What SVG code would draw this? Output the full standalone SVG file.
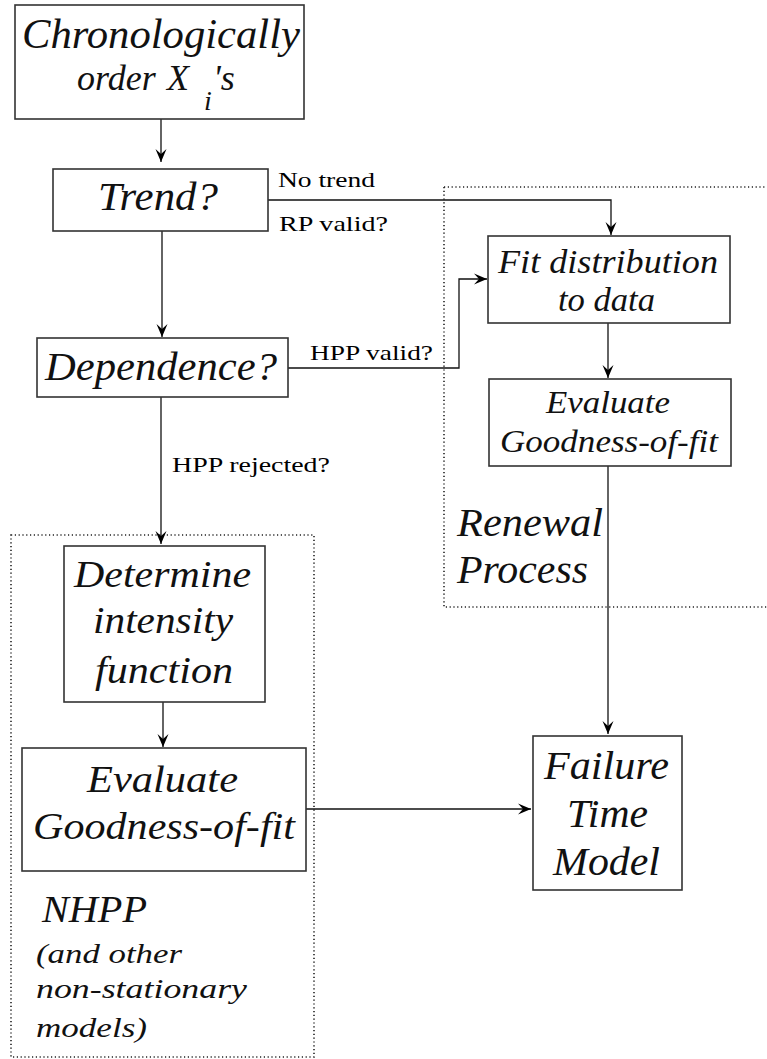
<svg xmlns="http://www.w3.org/2000/svg" width="767" height="1059" viewBox="0 0 767 1059">
  <defs>
    <marker id="arrow" viewBox="-14 -7 16 14" markerWidth="16" markerHeight="14" refX="0" refY="0" orient="auto" markerUnits="userSpaceOnUse">
      <path d="M0,0 L-13,-5.5 L-8,0 L-13,5.5 Z" fill="#000"/>
    </marker>
    <style>
      .box { fill: #fff; stroke: #333; stroke-width: 1.6; }
      .group { fill: none; stroke: #222; stroke-width: 1.6; stroke-dasharray: 1.2 2.6; }
      .edge { fill: none; stroke: #111; stroke-width: 1.3; }
      .t { font-family: "Liberation Serif", "Times New Roman", serif; font-style: italic; fill: #111; }
      .lab { font-family: "Liberation Serif", "Times New Roman", serif; font-size: 21px; fill: #000; }
    </style>
  </defs>

  <rect width="767" height="1059" fill="#fff"/>

  <!-- dotted grouping frames -->
  <g id="group-renewal">
    <path class="group" d="M444,187 L767,187 M444,187 L444,607 L767,607"/>
    <text class="t" x="457" y="536" font-size="40" textLength="146" lengthAdjust="spacingAndGlyphs">Renewal</text>
    <text class="t" x="457" y="583" font-size="40" textLength="131" lengthAdjust="spacingAndGlyphs">Process</text>
  </g>
  <g id="group-nhpp">
    <rect class="group" x="11" y="535" width="303" height="522"/>
    <text class="t" x="42" y="922" font-size="38" textLength="105" lengthAdjust="spacingAndGlyphs">NHPP</text>
    <text class="t" x="36" y="963" font-size="28" textLength="146" lengthAdjust="spacingAndGlyphs">(and other</text>
    <text class="t" x="36" y="998" font-size="28" textLength="211" lengthAdjust="spacingAndGlyphs">non-stationary</text>
    <text class="t" x="36" y="1037" font-size="28" textLength="111" lengthAdjust="spacingAndGlyphs">models)</text>
  </g>

  <!-- connectors -->
  <g id="connectors">
    <path class="edge" d="M161,119 L161,162" marker-end="url(#arrow)"/>
    <path class="edge" d="M268,200 L611,200 L611,235" marker-end="url(#arrow)"/>
    <path class="edge" d="M162,231 L162,337" marker-end="url(#arrow)"/>
    <path class="edge" d="M288,368 L459,368 L459,279 L487,279" marker-end="url(#arrow)"/>
    <path class="edge" d="M161,397 L161,544" marker-end="url(#arrow)"/>
    <path class="edge" d="M608,323 L608,378" marker-end="url(#arrow)"/>
    <path class="edge" d="M163,702 L163,747" marker-end="url(#arrow)"/>
    <path class="edge" d="M608,466 L608,734" marker-end="url(#arrow)"/>
    <path class="edge" d="M306,809 L531,809" marker-end="url(#arrow)"/>
    <text class="lab" x="278" y="187" textLength="97" lengthAdjust="spacingAndGlyphs">No trend</text>
    <text class="lab" x="279" y="231" textLength="109" lengthAdjust="spacingAndGlyphs">RP valid?</text>
    <text class="lab" x="310" y="360" textLength="123" lengthAdjust="spacingAndGlyphs">HPP valid?</text>
    <text class="lab" x="172" y="472" textLength="158" lengthAdjust="spacingAndGlyphs">HPP rejected?</text>
  </g>

  <!-- process boxes -->
  <g id="node-order">
    <rect class="box" x="15" y="5" width="289" height="114"/>
    <text class="t" x="22" y="48" font-size="42" textLength="278" lengthAdjust="spacingAndGlyphs">Chronologically</text>
    <text class="t" font-size="36" y="90"><tspan x="77">order</tspan><tspan x="167">X</tspan><tspan x="213">'s</tspan><tspan x="204" y="110" font-size="28">i</tspan></text>
  </g>
  <g id="node-trend">
    <rect class="box" x="53" y="169" width="215" height="62"/>
    <text class="t" x="98" y="210" font-size="40" textLength="120" lengthAdjust="spacingAndGlyphs">Trend?</text>
  </g>
  <g id="node-dependence">
    <rect class="box" x="37" y="338" width="251" height="59"/>
    <text class="t" x="45" y="380" font-size="40" textLength="232" lengthAdjust="spacingAndGlyphs">Dependence?</text>
  </g>
  <g id="node-fit">
    <rect class="box" x="488" y="236" width="242" height="87"/>
    <text class="t" x="498" y="273" font-size="33" textLength="220" lengthAdjust="spacingAndGlyphs">Fit distribution</text>
    <text class="t" x="558" y="311" font-size="33" textLength="97" lengthAdjust="spacingAndGlyphs">to data</text>
  </g>
  <g id="node-gof-renewal">
    <rect class="box" x="489" y="379" width="242" height="87"/>
    <text class="t" x="546" y="413" font-size="31" textLength="124" lengthAdjust="spacingAndGlyphs">Evaluate</text>
    <text class="t" x="500" y="452" font-size="31" textLength="218" lengthAdjust="spacingAndGlyphs">Goodness-of-fit</text>
  </g>
  <g id="node-intensity">
    <rect class="box" x="64" y="546" width="201" height="156"/>
    <text class="t" x="74" y="587" font-size="38" textLength="177" lengthAdjust="spacingAndGlyphs">Determine</text>
    <text class="t" x="93" y="633" font-size="38" textLength="140" lengthAdjust="spacingAndGlyphs">intensity</text>
    <text class="t" x="95" y="683" font-size="38" textLength="138" lengthAdjust="spacingAndGlyphs">function</text>
  </g>
  <g id="node-gof-nhpp">
    <rect class="box" x="22" y="748" width="284" height="123"/>
    <text class="t" x="87" y="792" font-size="38" textLength="151" lengthAdjust="spacingAndGlyphs">Evaluate</text>
    <text class="t" x="33" y="839" font-size="38" textLength="262" lengthAdjust="spacingAndGlyphs">Goodness-of-fit</text>
  </g>
  <g id="node-failure">
    <rect class="box" x="533" y="736" width="149" height="154"/>
    <text class="t" x="544" y="779" font-size="40" textLength="125" lengthAdjust="spacingAndGlyphs">Failure</text>
    <text class="t" x="567" y="827" font-size="40" textLength="81" lengthAdjust="spacingAndGlyphs">Time</text>
    <text class="t" x="553" y="875" font-size="40" textLength="107" lengthAdjust="spacingAndGlyphs">Model</text>
  </g>
</svg>
